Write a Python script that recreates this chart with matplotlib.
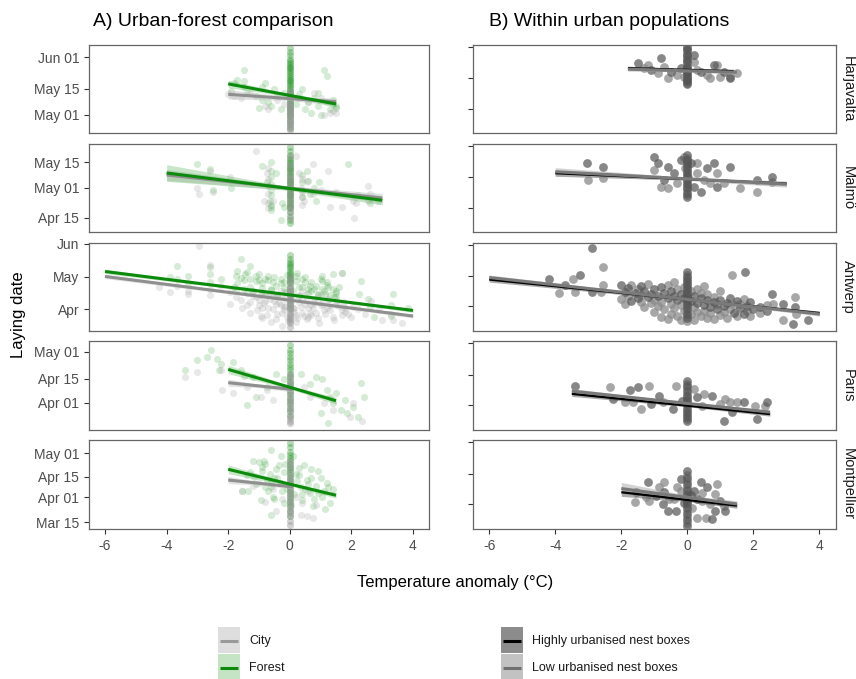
import matplotlib
matplotlib.use("Agg")
import matplotlib.pyplot as plt
from matplotlib.patches import Rectangle
import numpy as np

plt.rcParams['font.family'] = ['Liberation Sans', 'DejaVu Sans']

# --------------------------- data ------------------------------------------------------
# x = temperature anomaly (deg C), y = laying date as day of year (May 01 = 121)
cities = ["Harjavalta", "Malmö", "Antwerp", "Paris", "Montpellier"]

# y axis of panel A, one per city
a_ylim = [(111.3, 158.6), (97.3, 144.7), (71.2, 152.8), (75.0, 127.3), (69.4, 130.1)]
a_yticks = [[121, 135, 152], [105, 121, 135], [91, 121, 152], [91, 105, 121], [74, 91, 105, 121]]
a_ylabels = [["May 01", "May 15", "Jun 01"], ["Apr 15", "May 01", "May 15"], ["Apr", "May", "Jun"],
             ["Apr 01", "Apr 15", "May 01"], ["Mar 15", "Apr 01", "Apr 15", "May 01"]]
# panel B uses one fixed scale
b_ylim = (67.1, 153.8)
b_yticks = [91, 121, 152]
x_ticks = [-6, -4, -2, 0, 2, 4]

# ---- Harjavalta
harj_forest_x = [-1.9, -1.8, -1.7, -1.5, -1.5, -1.5, -1.4, -1.1, -1.0, -0.9, -0.9, -0.8, -0.7, -0.6, -0.5, -0.4,
                 -0.3, -0.2, 0.2, 0.3, 0.4, 0.5, 0.6, 0.7, 0.8, 0.9, 0.9, 1.0, 1.1, 1.2, 1.2, 1.3, 1.4, 1.4, 1.5, 1.5]
harj_forest_y = [134, 138, 140, 145, 139, 136, 133, 131, 125, 136, 129, 138, 128, 126, 135, 131,
                 124, 133, 127, 132, 135, 124, 128, 122, 130, 126, 133, 121, 145, 128, 142, 124, 127, 129, 126, 125]
harj_forest_col = [157, 155, 153, 151, 150, 149, 148, 147, 146, 145, 144, 143, 142, 141, 140, 139, 138, 137, 136,
                   135, 134, 133, 132, 131, 130, 129, 128, 127, 126, 125, 124, 123, 122, 121, 120, 118, 116, 114]
harj_city_x = [-2.0, -1.8, -1.6, -1.3, -0.8, -0.7, -0.4, -0.2, 0.3, 0.6, 0.8, 1.0, 1.1, 1.3, 1.4, 1.5]
harj_city_y = [132, 131, 130, 133, 126, 124, 129, 127, 130, 128, 133, 130, 121, 122, 123, 122]
harj_city_col = [134, 132, 130, 128, 127, 126, 125, 124, 123, 122, 121, 120, 119, 118, 117, 116, 115, 114, 113]
harj_high_x = [-1.5, -0.8, -0.5, -0.2, 0.2, 0.4, 0.8, 1.1, 1.3, -1.1]
harj_high_y = [135.7, 140.6, 127.5, 130.8, 143.9, 127.5, 134.1, 127.5, 120.9, 129.1]
harj_low_x = [-1.2, -0.7, -0.9, -0.6, -0.3, -0.1, 0.2, 0.3, 0.6, 0.9, 0.7, 1.0, 1.3, 1.5, -1.3]
harj_low_y = [134.1, 132.4, 125.8, 120.9, 124.2, 122.6, 137.3, 129.1, 124.2, 134.1, 120.9, 122.6, 122.6, 125.8, 130.8]
harj_urban_col = [152, 150, 149, 146, 144, 143, 140, 138, 137, 134, 132, 131, 129, 128, 126, 125, 123, 122,
                  120, 119, 118, 116, 115]

# ---- Malmö
malm_forest_x = [-3.0, -2.6, -2.5, -1.9, -0.9, -0.75, -0.65, -0.6, -0.45, -0.25, -0.3, -0.2, 0.55, 0.6, 0.65, 0.8,
                 0.85, 0.95, 1.9, -0.6, -0.6, -0.6, -0.6, -0.6, -0.6, -0.6, -0.6, 0.4, 0.4, 0.4, 0.4, 2.2, 2.6]
malm_forest_y = [134, 131, 120, 121, 133, 124, 114, 111, 129, 113, 104, 111, 130, 125, 118, 121,
                 114, 124, 134, 135, 130, 127, 123, 120, 117, 112, 109, 128, 124, 120, 116, 117, 113]
malm_forest_col = [143, 141, 139, 137, 136, 135, 134, 133, 132, 131, 130, 129, 128, 127, 126, 125, 124, 123,
                   122, 121, 120, 119, 118, 117, 116, 115, 114, 113, 112, 111, 110, 108, 106, 104, 102]
malm_city_x = [-3.0, -2.95, -2.6, -2.5, -1.95, -1.1, -0.85, -0.75, -0.55, 0.2, 0.3, 0.35, 0.45, 0.55, 0.75, 0.75,
               1.0, 1.25, 1.3, 1.5, 1.7, 2.05, 2.1, 2.15, 2.55, 2.55, 2.6, 2.85, -0.7, -0.7, -0.7, -0.7, -0.7, -0.7,
               0.4, 0.4, 0.4, 0.4]
malm_city_y = [121, 118, 130, 119, 127, 141, 114, 129, 114, 138, 129, 121, 114, 125, 134, 118,
               120, 130, 111, 119, 111, 114, 105, 113, 122, 114, 118, 114, 132, 126, 122, 118, 113, 110,
               126, 119, 116, 112]
malm_city_col = [138, 134, 131, 128, 126, 124, 122, 120, 118, 116, 114, 112, 110, 108, 105]
malm_high_x = [-3.05, -2.55, -1.0, -0.9, -0.7, -0.6, -0.4, -0.2, 0.1, 0.2, 0.4, 0.6, 0.8, 0.9, 1.3, 2.1, 2.55]
malm_high_y = [134.8, 131.5, 141.3, 134.8, 118.4, 131.5, 124.9, 138.1, 134.8, 111.8, 106.9, 129.9, 134.8, 111.8,
               131.5, 118.4, 121.6]
malm_low_x = [-3.0, -2.55, -1.0, -0.8, -0.6, -0.3, -0.1, -0.07, 0.03, 0.3, 0.3, 0.5, 0.7, 0.9, 1.1, 1.6, 2.1, 2.55]
malm_low_y = [118.4, 120.0, 128.2, 111.8, 110.2, 115.1, 141.3, 129.9, 121.6, 134.8, 124.9, 118.4, 115.1, 124.9,
              115.1, 110.2, 106.9, 116.7]
malm_urban_col = [143, 140, 138, 136, 134, 132, 130, 128, 126, 124, 122, 120, 118, 116, 114, 112, 110, 108, 106,
                  104, 102]

# ---- Antwerp
antw_forest_x = [-3.9, -3.65, -3.65, -3.3, -3.3, -2.6, -2.6, -2.6, -2.25, -1.75, -1.7, -1.75, -1.6, -1.5, -1.45,
                 -1.3, -1.3, -1.1, -0.9, -0.7, -0.45, -0.3, 0.2, 0.4, 0.5, 0.6, 0.85, 1.05, 1.05, 1.15, 1.25, 1.4,
                 1.5, 1.7, 1.5, 2.25, 2.3, 2.55, 2.6, 2.75, 3.35, 3.3, 3.3, 3.85, -1.0, -0.6, -0.2, 0.3, 0.7, 1.2,
                 -1.4, -0.8, 0.9, 1.6,
                 -1.8, -1.6, -1.5, -1.4, -1.2, -1.1, -1.0, -0.9, -0.8, -0.7, -0.6, -0.5, -0.4, -0.3, -0.2, -0.1,
                 0.1, 0.2, 0.3, 0.4, 0.5, 0.6, 0.7, 0.8, 0.9, 1.0, 1.1, 1.2, 1.3, 1.4, 1.5,
                 -1.7, -1.3, -0.95, -0.55, -0.15, 0.25, 0.65, 1.05, 1.45]
antw_forest_y = [121, 131, 119, 122, 115, 130, 124, 116, 119, 122, 115, 108, 138, 118, 124,
                 131, 112, 122, 115, 122, 113, 119, 122, 119, 116, 110, 113, 110, 122, 105, 112, 124,
                 102, 125, 108, 105, 117, 101, 93, 84, 105, 95, 85, 92, 118, 110, 116, 112, 108, 116,
                 106, 119, 104, 112,
                 112, 120, 110, 126, 108, 117, 124, 111, 106, 118, 109, 121, 104, 115, 111, 123,
                 108, 117, 103, 112, 121, 106, 116, 110, 105, 119, 108, 114, 104, 110, 106,
                 127, 119, 104, 116, 107, 125, 113, 117, 102]
antw_forest_col = [141, 138, 135, 133, 131, 129, 127, 125, 123, 121, 119, 117, 115, 112, 108, 104, 100, 96, 92]
antw_city_x = [-4.25, -3.9, -3.65, -3.3, -3.3, -2.6, -2.25, -2.6, -1.95, -1.95, -1.75, -1.55, -1.3, -1.2, -1.1,
               -1.0, -0.95, -0.9, -0.8, -0.7, -0.6, -0.5, -0.45, -0.4, -0.3, -0.25, -0.2, -0.15, -0.1, 0.1, 0.15,
               0.2, 0.3, 0.4, 0.5, 0.55, 0.7, 0.8, 0.85, 0.95, 1.05, 1.2, 1.25, 1.4, 1.5, 1.7, 1.75, 1.9, 1.7,
               2.05, 2.45, 2.65, 2.9, 3.0, 3.3, 3.35, 3.65, -2.95, -2.6, -0.7, -0.5, -0.3, -0.2, 0.3, 0.5, 0.6,
               0.9, 1.1, 1.3, -1.0, -0.9, 0.2, -0.1, 0.7, 1.0, -0.4, 0.4, 1.5, 1.8,
               -1.6, -1.4, -1.2, -1.05, -0.85, -0.75, -0.65, -0.55, -0.45, -0.35,
               -0.25, -0.15, -0.05, 0.05, 0.15, 0.25, 0.35, 0.45, 0.55, 0.65,
               0.75, 0.9, 1.0, 1.15, 1.3, 1.45, 1.6, 1.8, 2.0, 2.2,
               -0.6, -0.3, 0.1, 0.4, 0.8, 1.2, -1.3, -0.9, 0.6, 1.7]
antw_city_y = [112, 107, 113, 108, 105, 110, 113, 104, 107, 96, 102, 92, 98, 108, 102,
               95, 85, 107, 99, 92, 79, 104, 96, 87, 108, 76, 93, 101, 84, 102, 92,
               79, 98, 88, 104, 82, 95, 101, 88, 78, 96, 92, 101, 84, 95, 90, 98, 87, 125,
               93, 87, 99, 90, 81, 87, 81, 78, 150, 132, 104, 99, 95, 90, 104, 96, 92,
               98, 90, 95, 100, 92, 86, 106, 86, 104, 102, 100, 99, 92,
               100, 95, 103, 90, 97, 86, 101, 91, 82, 97,
               88, 94, 80, 99, 89, 83, 93, 85, 99, 88,
               92, 83, 95, 87, 90, 81, 94, 89, 84, 91,
               105, 103, 92, 108, 97, 100, 88, 83, 84, 86]
antw_city_col = [122, 118, 115, 112, 110, 108, 106, 104, 102, 100, 98, 96, 94, 92, 90, 88, 86, 84, 82, 80, 78, 75]
antw_high_x = [-2.0, -1.9, -1.8, -1.7, -1.6, -1.5, -1.4, -1.3, -1.2, -1.1, -1.0, -0.9, -0.8, -0.7, -0.6, -0.5,
               -0.4, -0.3, -0.2, -0.1, 0.1, 0.2, 0.3, 0.4, 0.5, 0.6, 0.7, 0.8, 0.9, 1.0, 1.1, 1.2, 1.3, 1.4, 1.5,
               1.6, 1.7, 1.8, 1.9, 2.0, 2.2, 2.4, -2.9, -4.2, -3.7, -3.25, -2.9, 1.75, 2.55, 2.9, 3.25, 3.65, 3.2]
antw_high_y = [112, 105, 109, 96, 104, 99, 111, 106, 100, 103, 108, 101, 110, 104, 99, 106,
               101, 97, 103, 99, 96, 101, 94, 99, 92, 97, 90, 95, 88, 97, 91, 94, 99, 85, 96,
               89, 84, 91, 95, 88, 90, 87, 148.6, 117.7, 111.8, 121.7, 105.2, 124.9, 103.6, 93.7, 90.5, 77.3, 74.0]
antw_low_x = [-2.0, -1.9, -1.8, -1.7, -1.5, -1.4, -1.4, -1.3, -1.2, -1.1, -1.0, -1.0, -0.9, -0.8, -0.8, -0.7,
              -0.6, -0.6, -0.5, -0.5, -0.4, -0.4, -0.3, -0.3, -0.2, -0.2, -0.1, -0.1, 0.1, 0.1, 0.2, 0.2, 0.3,
              0.3, 0.4, 0.4, 0.5, 0.5, 0.6, 0.6, 0.7, 0.8, 0.8, 0.9, 1.0, 1.0, 1.1, 1.2, 1.3, 1.4, 1.5, 1.6,
              1.7, 1.8, 1.9, 2.2, 2.4, -2.55, -3.9, -3.45, -3.4, -2.55, -2.6, 1.35, 2.6, 3.25, 3.3, 2.9]
antw_low_y = [98, 93, 101, 112, 108, 95, 102, 90, 113, 94, 97, 86, 91, 95, 81, 88,
              112, 79, 93, 84, 89, 115, 108, 82, 92, 78, 87, 110, 106, 84, 90, 78, 108,
              86, 82, 104, 87, 111, 80, 103, 85, 100, 79, 93, 83, 106, 86, 80, 88, 92, 82, 93,
              98, 87, 82, 85, 92, 129.9, 104.6, 118.4, 105.2, 111.8, 105.2, 121.7, 93.7, 100.3, 83.9, 77.3]
antw_urban_col = [125, 122, 120, 118, 116, 114, 112, 110, 108, 106, 104, 102, 100, 98, 96, 94, 92, 90, 88, 86,
                  84, 82, 80, 77]

# ---- Paris
pari_forest_x = [-3.4, -3.0, -2.7, -2.55, -2.35, -2.25, -2.3, -1.85, -1.6, -1.5, -1.2, -0.75, -0.45, -0.2, 0.35,
                 0.65, 0.85, 1.05, 1.2, 1.3, 1.4, 1.5, 1.65, 1.8, 1.85, 2.05, 2.2, 2.3, 2.4, 1.0, 1.25, -1.4, -1.1]
pari_forest_y = [110, 116, 118, 122, 117, 114, 110, 115, 110, 107, 106, 100, 108, 105, 108,
                 102, 106, 105, 98.5, 94.6, 90.6, 96.5, 86.7, 92.6, 84.8, 88.7, 82.8, 102.4, 94.6, 84.8, 78.9,
                 89.7, 94.6]
pari_forest_col = [125, 122, 120, 118, 116, 114, 112, 110, 108, 106, 104, 102, 100, 98, 96, 94, 92, 90, 88, 86, 83]
pari_city_x = [-3.4, -3.0, -2.25, -2.2, -1.85, -1.4, -0.95, -0.75, -0.55, 0.45, 0.65, 1.1, 1.4, 1.95, 2.05, 2.35]
pari_city_y = [106, 109, 110, 98.5, 96.5, 100, 94.6, 98.5, 92.6, 100, 94.6, 90.6, 86.7, 82.8, 90.6, 80]
pari_city_col = [108, 106, 104, 102, 100, 98, 96, 94, 92, 90, 88, 86, 84, 82, 80, 79]
pari_high_x = [-3.4, -2.25, -1.75, -1.5, -1.1, -0.85, -0.45, -0.15, 0.3, 0.75, 1.1, 1.35, 1.7, 2.1, 2.4]
pari_high_y = [109.5, 97.4, 105.6, 108.8, 92.4, 100.6, 87.5, 95.7, 99.0, 100.6, 76.0, 84.2, 94.1, 77.6, 94.1]
pari_low_x = [-2.35, -1.9, -1.65, -1.4, -1.15, -0.75, -0.35, 0.2, 0.45, 0.5, 1.0, 1.15, 1.3, 1.5, 2.05, 2.35]
pari_low_y = [108.8, 94.1, 94.1, 87.5, 109.5, 94.1, 109.5, 107.2, 90.8, 102.3, 92.4, 97.4, 94.1, 94.1, 90.8, 90.8]
pari_urban_col = [115, 112, 110, 108, 105, 102, 100, 98, 96, 94, 92, 90, 88, 86, 84, 82, 80, 78, 76]

# ---- Montpellier
mont_forest_x = [-1.55, -1.35, -1.2, -1.0, -0.9, -0.85, -1.15, -0.75, -0.65, -0.6, -0.55, -0.45, -0.3, -0.25,
                 -0.2, -0.6, -0.15, 0.1, 0.2, 0.35, 0.4, 0.45, 0.55, 0.65, 0.7, 0.75, 0.85, 1.0, 1.05, 1.15, 1.25,
                 1.4, 1.3, -0.6, -0.3, -0.95, -1.3, -0.8, -0.4, 0.3, 0.6, 0.9, -0.5, 0.25,
                 -1.1, -0.9, -0.7, -0.5, -0.35, -0.1, 0.15, 0.3, 0.5, 0.7, 0.9, 1.1, -0.8, -0.6, -0.2, 0.4, 0.8,
                 1.2, -1.4, 0.05]
mont_forest_y = [95, 95, 116, 115, 112, 116, 105, 103, 107, 98, 91, 110, 101, 95,
                 87, 79, 114, 119, 107, 98, 89, 113, 103, 94, 110, 85, 99, 104, 91, 83, 98,
                 97, 87, 123, 119, 89, 108, 98, 104, 111, 100, 94, 90, 102,
                 100, 109, 95, 104, 113, 97, 93, 106, 97, 104, 109, 95, 114, 101, 108, 93, 90,
                 101, 106, 86]
mont_forest_col = [128, 125, 122, 120, 118, 116, 114, 112, 110, 108, 106, 104, 102, 100, 98, 96, 94, 92, 90, 88,
                   85, 82, 78]
mont_city_x = [-1.55, -1.2, -0.8, -0.55, -0.45, 0.35, 0.55, 0.75, 0.4, 0.85, 0.2, -0.25, -1.0, 0.6]
mont_city_y = [95, 99, 88, 97, 82, 79, 78, 77, 87, 86, 91, 90, 101, 95]
mont_city_col = [116, 113, 110, 107, 104, 102, 100, 98, 96, 94, 92, 90, 88, 86, 84, 82, 80, 78, 75, 72]
mont_high_x = [-1.55, -1.2, -0.95, -0.75, -0.6, -0.35, -0.2, 0.2, 0.4, 0.6, 0.75, 0.85, 1.0, 1.15, -0.7, 0.3,
               -0.1, 0.1]
mont_high_y = [102.9, 112.7, 99.6, 91.4, 84.8, 84.8, 116.0, 104.5, 112.7, 107.8, 76.6, 84.8, 94.7, 84.8, 102.9,
               96.0, 92.0, 100.0]
mont_low_x = [-1.6, -1.15, -0.85, -0.7, -0.55, -0.3, 0.3, 0.45, 0.55, 0.7, 0.85, 0.9, 1.1, -1.25, -0.2, 0.15,
              -0.4, 0.45]
mont_low_y = [93.0, 94.7, 107.8, 112.7, 96.3, 107.8, 78.3, 94.7, 78.3, 91.4, 101.3, 111.1, 89.8, 98.0, 104.0,
              88.0, 96.0, 102.0]
mont_urban_col = [124, 120, 117, 114, 111, 108, 105, 102, 100, 98, 96, 94, 92, 90, 88, 85, 82, 79, 76, 73, 70]

# fitted lines: x at start / mean / end, y there, half width of the 95% band
fit_x = {
    "forest": [(-2.0, 0.0, 1.5), (-4.0, 0.0, 3.0), (-6.0, 0.0, 4.0), (-2.0, 0.0, 1.5), (-2.0, 0.0, 1.5)],
    "city": [(-2.0, 0.0, 1.5), (-4.0, 0.0, 3.0), (-6.0, 0.0, 4.0), (-2.0, -1.0, 0.1), (-2.0, -1.0, 0.1)],
    "high": [(-1.8, 0.0, 1.4), (-4.0, 0.0, 3.0), (-6.0, 0.0, 4.0), (-3.5, 0.0, 2.5), (-2.0, 0.0, 1.5)],
    "low": [(-1.8, 0.0, 1.5), (-4.0, 0.0, 3.0), (-6.0, 0.0, 4.0), (-3.5, 0.0, 2.5), (-2.0, 0.0, 1.5)],
}
fit_y = {
    "forest": [(137.7, 131.5, 126.9), (129.1, 120.7, 114.4), (126.1, 104.4, 90.0), (110.6, 100.1, 92.2),
               (110.1, 100.0, 92.4)],
    "city": [(132.1, 129.8, 128.1), (128.0, 120.9, 115.6), (121.5, 99.5, 84.8), (102.8, 100.9, 98.8),
             (102.8, 100.6, 98.1)],
    "high": [(131.0, 129.3, 128.0), (125.0, 119.2, 114.8), (117.5, 97.7, 84.5), (102.3, 90.8, 82.6),
             (102.9, 95.4, 89.8)],
    "low": [(130.0, 128.4, 127.0), (126.5, 119.5, 114.3), (119.5, 97.9, 83.5), (105.0, 93.0, 84.5),
            (106.5, 97.9, 91.5)],
}
fit_ci = {
    "forest": [(2.0, 0.8, 1.5), (4.5, 1.0, 2.5), (2.0, 0.7, 1.8), (2.5, 1.0, 2.0), (3.0, 1.0, 2.0)],
    "city": [(2.5, 1.0, 2.0), (3.0, 1.0, 2.5), (2.0, 0.7, 1.8), (2.0, 1.0, 1.5), (2.5, 1.0, 1.5)],
    "high": [(2.0, 1.0, 2.0), (3.0, 1.0, 2.0), (2.5, 1.0, 2.0), (2.5, 1.0, 2.0), (4.0, 1.5, 2.5)],
    "low": [(2.0, 1.0, 2.0), (4.0, 1.5, 3.0), (2.5, 1.0, 2.0), (2.5, 1.0, 2.0), (6.0, 2.0, 3.0)],
}

prefixes = ["harj", "malm", "antw", "pari", "mont"]
data = {p: {k: globals()[p + "_" + k] for k in
            ["forest_x", "forest_y", "forest_col", "city_x", "city_y", "city_col",
             "high_x", "high_y", "low_x", "low_y", "urban_col"]} for p in prefixes}

# --------------------------- colours ---------------------------------------------------
FOREST = "#0b8a0b"
CITY = "#999999"
TICK = "#4d4d4d"

# --------------------------- layout (pixels) -------------------------------------------
W, H = 856, 679
fig = plt.figure(figsize=(W / 100, H / 100), dpi=100)

row_top = [45, 144, 242.7, 341, 440]
row_bot = [133, 232, 330.7, 430, 529]
col_a = (89, 429)
col_b = (473, 836)


def px_axes(lr, top, bot):
    return fig.add_axes([lr[0] / W, 1 - bot / H, (lr[1] - lr[0]) / W, (bot - top) / H])


def style(ax):
    for s in ax.spines.values():
        s.set_color("#666666")
        s.set_linewidth(0.9)
    ax.tick_params(colors="#333333", labelcolor=TICK, labelsize=10, length=3.5, width=0.8)
    ax.set_xticks(x_ticks)
    ax.set_xticklabels([str(t) for t in x_ticks])


def draw_fit(ax, key, i, line_col, band_col, band_alpha, lw):
    xs = np.array(fit_x[key][i])
    ys = np.array(fit_y[key][i])
    ws = np.array(fit_ci[key][i])
    ax.fill_between(xs, ys - ws, ys + ws, color=band_col, alpha=band_alpha, linewidth=0, zorder=3)
    ax.plot(xs, ys, color=line_col, lw=lw, solid_capstyle="butt", zorder=4)


for i, (city, p) in enumerate(zip(cities, prefixes)):
    d = data[p]

    # ---- panel A: urban vs forest
    ax = px_axes(col_a, row_top[i], row_bot[i])
    style(ax)
    ax.scatter(d["forest_x"], d["forest_y"], s=26, color=FOREST, alpha=0.17, linewidths=0, zorder=1)
    ax.scatter([0] * len(d["forest_col"]), d["forest_col"], s=26, color=FOREST, alpha=0.3, linewidths=0, zorder=1)
    ax.scatter(d["city_x"], d["city_y"], s=26, color=CITY, alpha=0.22, linewidths=0, zorder=2)
    ax.scatter([0] * len(d["city_col"]), d["city_col"], s=26, color=CITY, alpha=0.45, linewidths=0, zorder=2)
    draw_fit(ax, "city", i, "#8f8f8f", "#bdbdbd", 0.45, 2.2)
    draw_fit(ax, "forest", i, FOREST, "#4caf4c", 0.3, 2.2)
    ax.set_xlim(-6.52, 4.52)
    ax.set_ylim(*a_ylim[i])
    ax.set_yticks(a_yticks[i])
    ax.set_yticklabels(a_ylabels[i])
    if i < 4:
        ax.tick_params(axis="x", length=0, labelbottom=False)

    # ---- panel B: within urban populations
    bx = px_axes(col_b, row_top[i], row_bot[i])
    style(bx)
    col = d["urban_col"]
    bx.scatter(d["low_x"], d["low_y"], s=40, color="#8a8a8a", alpha=0.75, linewidths=0, zorder=1)
    bx.scatter([0] * len(col[1::2]), col[1::2], s=40, color="#8a8a8a", alpha=0.75, linewidths=0, zorder=1)
    bx.scatter(d["high_x"], d["high_y"], s=40, color="#555555", alpha=0.7, linewidths=0, zorder=2)
    bx.scatter([0] * len(col[::2]), col[::2], s=40, color="#555555", alpha=0.7, linewidths=0, zorder=2)
    draw_fit(bx, "high", i, "#000000", "#5a5a5a", 0.5, 1.6)
    draw_fit(bx, "low", i, "#7a7a7a", "#a8a8a8", 0.5, 2.2)
    bx.set_xlim(-6.49, 4.5)
    bx.set_ylim(*b_ylim)
    bx.set_yticks(b_yticks)
    bx.set_yticklabels([])
    if i < 4:
        bx.tick_params(axis="x", length=0, labelbottom=False)

    # strip label on the right
    fig.text(848 / W, 1 - (row_top[i] + row_bot[i]) / 2 / H, city, rotation=-90,
             ha="center", va="center", fontsize=10.5, color="#1a1a1a")

# --------------------------- titles and axis labels ------------------------------------
fig.text(93 / W, 1 - 26 / H, "A) Urban-forest comparison", fontsize=14, va="baseline", color="#000000")
fig.text(489 / W, 1 - 26 / H, "B) Within urban populations", fontsize=14, va="baseline", color="#000000")
fig.text(19 / W, 1 - 315 / H, "Laying date", rotation=90, ha="center", va="center", fontsize=12)
fig.text(455 / W, 1 - 583 / H, "Temperature anomaly (°C)", ha="center", va="center", fontsize=12)

# --------------------------- legends ---------------------------------------------------
lax = fig.add_axes([0, 0, 1, 1])
lax.set_xlim(0, W)
lax.set_ylim(H, 0)
lax.axis("off")

legend_rows = [
    (218, 627, "#dedede", "#999999", "City"),
    (218, 654, "#c4e4c4", FOREST, "Forest"),
    (501, 627, "#8c8c8c", "#000000", "Highly urbanised nest boxes"),
    (501, 654, "#c2c2c2", "#707070", "Low urbanised nest boxes"),
]
for x0, y0, fill, line, label in legend_rows:
    lax.add_patch(Rectangle((x0, y0), 22.5, 25.5, facecolor=fill, edgecolor="none"))
    lax.plot([x0 + 2, x0 + 20.5], [y0 + 13.5, y0 + 13.5], color=line, lw=2.2, solid_capstyle="butt")
    lax.text(x0 + 31, y0 + 14, label, fontsize=9, va="center", ha="left", color="#1a1a1a")

fig.savefig("out.png", dpi=100)
